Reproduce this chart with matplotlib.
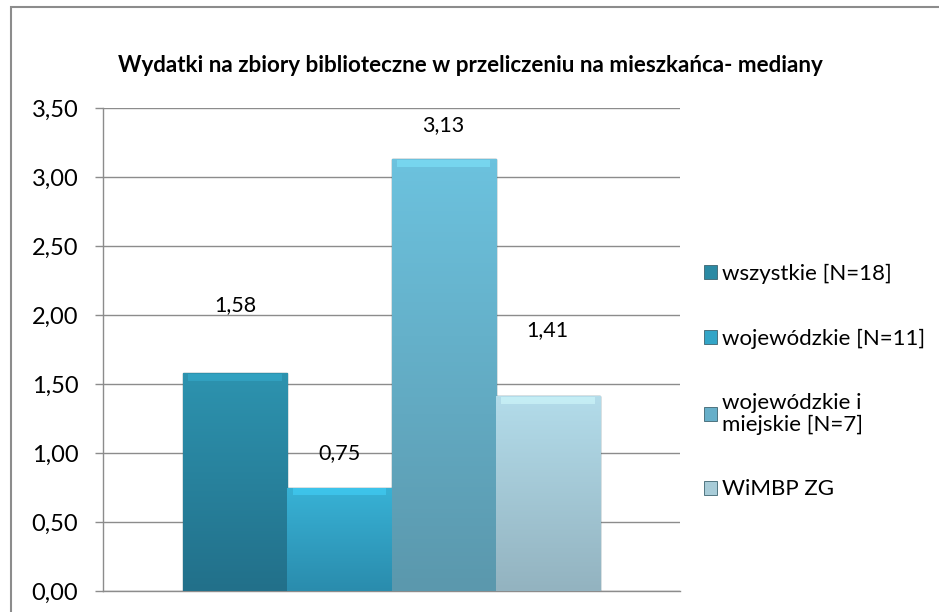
import numpy as np
import matplotlib.pyplot as plt
from matplotlib.patches import Rectangle, Patch
from matplotlib.colors import to_rgb

plt.rcParams['font.family'] = ['Lato', 'DejaVu Sans']

title = "Wydatki na zbiory biblioteczne w przeliczeniu na mieszkańca- mediany"
series = ["wszystkie [N=18]", "wojewódzkie [N=11]", "wojewódzkie i\nmiejskie [N=7]", "WiMBP ZG"]
values = [1.58, 0.75, 3.13, 1.41]
yticks = [0.0, 0.5, 1.0, 1.5, 2.0, 2.5, 3.0, 3.5]

# shading: colour at top and at bottom of each bar
top_colors = ["#2d93af", "#38b2d6", "#6cc2de", "#b3dcea"]
bottom_colors = ["#22708a", "#2a8cad", "#5b98ad", "#93b3c0"]
legend_colors = ["#2b8aa4", "#33a5c7", "#67afc9", "#a8ccd8"]
label_offsets = [68, 34, 34, 66]  # px above bar top, as in the original

fig = plt.figure(figsize=(9.39, 6.12), dpi=100)
ax = fig.add_axes([103 / 939, 21 / 612, 577 / 939, 483 / 612])

# outer chart frame (right/bottom edges fall outside the image)
fig.patches.append(Rectangle((11 / 939, -0.1), 1.2, 1.1 - 7 / 612,
                             transform=fig.transFigure, fill=False,
                             edgecolor="#8c8c8c", lw=1.5, zorder=0))

x = np.arange(len(values))
w = 1.0
for i, v in enumerate(values):
    top = np.array(to_rgb(top_colors[i]))
    bot = np.array(to_rgb(bottom_colors[i]))
    bar = ax.bar(x[i], v, width=w, color=top_colors[i], edgecolor="#3d6470", lw=1.0, zorder=3)[0]
    grad = np.linspace(1.0, 0.0, 100)[:, None, None]
    img = grad * top + (1 - grad) * bot
    im = ax.imshow(img, extent=[x[i] - w / 2, x[i] + w / 2, 0, v], aspect="auto",
                   zorder=3.5, origin="upper")
    im.set_clip_path(bar)
    # soft bevel on top
    hl = np.clip(top * 1.2, 0, 1)
    ax.bar(x[i], 0.05, bottom=v - 0.055, width=w * 0.9, color=hl, lw=0, zorder=4, alpha=0.5)
    ax.annotate(f"{v:.2f}".replace(".", ","), (x[i], v), xytext=(0, label_offsets[i] * 0.72),
                textcoords="offset points", ha="center", va="center", fontsize=15.5, zorder=5)

ax.set_xlim(-1.27, 4.27)
ax.set_ylim(0, 3.5)
ax.set_yticks(yticks)
ax.set_yticklabels([f"{t:.2f}".replace(".", ",") for t in yticks], fontsize=17)
ax.set_xticks([])
ax.tick_params(axis="y", length=5.8, color="#8c8c8c", width=1, pad=12)
ax.grid(axis="y", color="#8c8c8c", lw=1, zorder=0)
ax.set_axisbelow(True)
for s in ["top", "right"]:
    ax.spines[s].set_visible(False)
for s in ["left", "bottom"]:
    ax.spines[s].set_color("#8c8c8c")
    ax.spines[s].set_linewidth(1)

fig.text(470 / 939, 1 - 66 / 612, title, ha="center", va="center",
         fontsize=16.1, fontweight="bold")

handles = [Patch(facecolor=c, edgecolor="#3d6470", lw=0.6) for c in legend_colors]
leg = fig.legend(handles, series, loc="upper left", bbox_to_anchor=(693 / 939, 1 - 253 / 612),
                 frameon=False, fontsize=16, handlelength=0.6, handleheight=0.6,
                 handletextpad=0.2, labelspacing=2.0, borderpad=0)
for t in leg.get_texts():
    t.set_linespacing(1.1)

fig.savefig("out.png", dpi=100)
